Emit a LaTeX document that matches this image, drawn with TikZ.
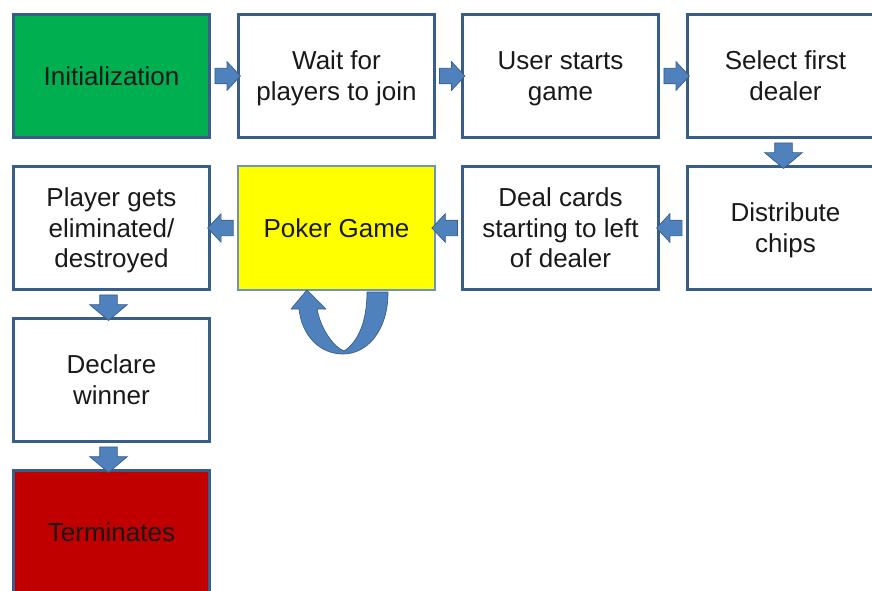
\documentclass[tikz,border=0pt]{standalone}
\usepackage{fontspec}
\setmainfont{Liberation Sans}
\usetikzlibrary{shapes.arrows,calc}
\definecolor{boxline}{RGB}{56,93,138}
\definecolor{lightline}{RGB}{110,145,195}
\definecolor{arrowfill}{RGB}{79,129,189}
\definecolor{arrowline}{RGB}{56,93,138}
\definecolor{initgreen}{RGB}{0,176,80}
\definecolor{pokeryellow}{RGB}{255,255,0}
\definecolor{termred}{RGB}{192,0,0}
\begin{document}
\begin{tikzpicture}[x=1pt,y=-1pt,
  stage/.style={draw=boxline, line width=2.6pt, fill=white,
    minimum width=196.5pt, minimum height=123.5pt, inner sep=0pt,
    align=center, font=\fontsize{26}{30.7}\selectfont, text=black!90,
    text depth=0.5pt},
  flowarrow/.style={single arrow, draw=arrowline, fill=arrowfill,
    line width=0.7pt, inner xsep=0pt, outer sep=0pt, minimum width=0pt},
  harrow/.style={flowarrow, inner ysep=7.5pt, single arrow head extend=6.5pt,
    single arrow tip angle=94, minimum height=25.5pt},
  varrow/.style={flowarrow, inner ysep=8.5pt, single arrow head extend=10pt,
    single arrow tip angle=100, minimum height=25.5pt},
]
\useasboundingbox (0,0) rectangle (872,591);
\clip (0,0) rectangle (872,591);

% first row
\node[stage, fill=initgreen] (init)   at (111.5,76) {Initialization};
\node[stage] (wait)   at (336.5,76) {Wait for\\players to join};
\node[stage] (start)  at (560.5,76) {User starts\\game};
\node[stage] (dealer) at (785.5,76) {Select first\\dealer};
% second row
\node[stage] (chips)  at (785.5,228) {Distribute\\chips};
\node[stage] (deal)   at (560.5,228) {Deal cards\\starting to left\\of dealer};
\node[stage, fill=pokeryellow, draw=lightline, line width=2pt] (poker) at (336.5,228) {Poker Game};
\node[stage] (elim)   at (111.5,228) {Player gets\\eliminated/\\destroyed};
% left column
\node[stage] (winner) at (111.5,380) {Declare\\winner};
\node[stage, fill=termred] (term) at (111.5,532) {Terminates};

% block arrows between stages
\node[harrow] at ($(init.east)!0.5!(wait.west)$) {};
\node[harrow] at ($(wait.east)!0.5!(start.west)$) {};
\node[harrow] at ($(start.east)!0.5!(dealer.west)$) {};
\node[varrow, rotate=-90] at ($(dealer.south)!0.5!(chips.north)+(-2,0)$) {};
\node[harrow, rotate=180] at ($(chips.west)!0.5!(deal.east)$) {};
\node[harrow, rotate=180] at ($(deal.west)!0.5!(poker.east)$) {};
\node[harrow, rotate=180] at ($(poker.west)!0.5!(elim.east)$) {};
\node[varrow, rotate=-90] at ($(elim.south)!0.5!(winner.north)+(-3,0)$) {};
\node[varrow, rotate=-90] at ($(winner.south)!0.5!(term.north)+(-3,0)$) {};

% U-turn arrow under the poker game
\draw[fill=arrowfill, draw=arrowline, line width=0.7pt, line join=round]
  (388,292) .. controls (388,331) and (367,354) .. (343,354)
  .. controls (320,354) and (302,336) .. (299,309)
  -- (291,309) -- (307,290) -- (326,309) -- (317,309)
  .. controls (321,330) and (334,347) .. (344,351)
  .. controls (358,342) and (367,322) .. (367,292) -- cycle;
\end{tikzpicture}
\end{document}
